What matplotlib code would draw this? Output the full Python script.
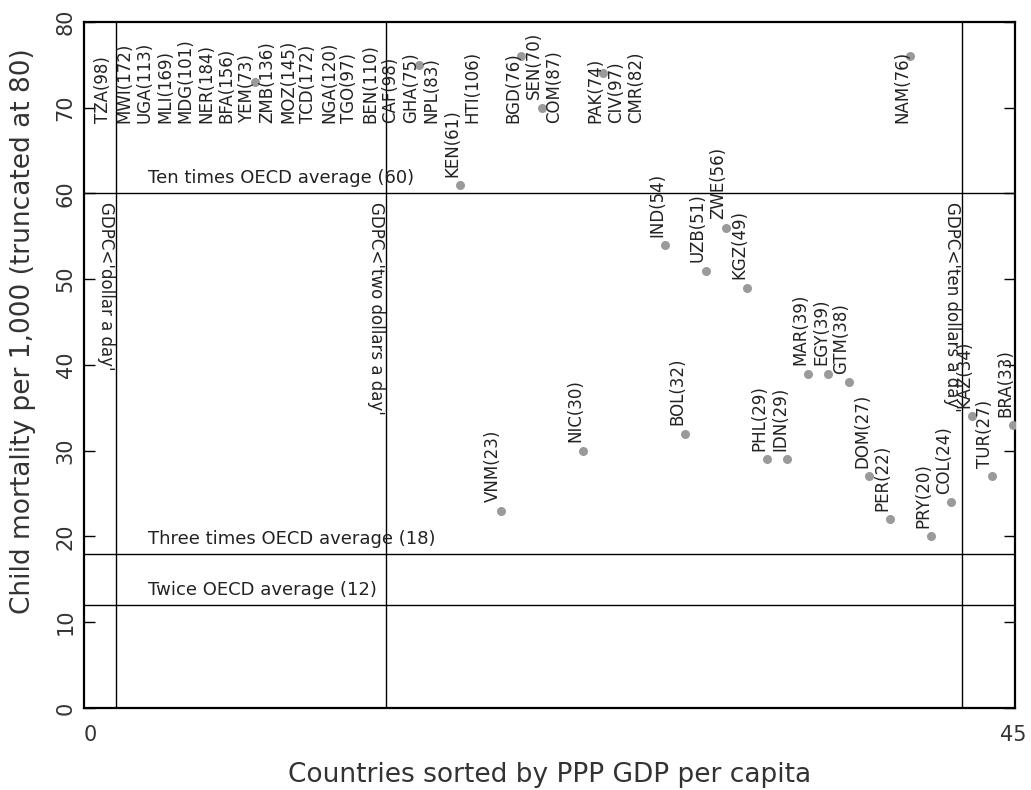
import numpy as np
import matplotlib.pyplot as plt

codes = ['TZA', 'MWI', 'UGA', 'MLI', 'MDG', 'NER', 'BFA', 'YEM', 'ZMB', 'MOZ',
         'TCD', 'NGA', 'TGO', 'BEN', 'CAF', 'GHA', 'NPL', 'KEN', 'HTI', 'VNM',
         'BGD', 'SEN', 'COM', 'NIC', 'PAK', 'CIV', 'CMR', 'IND', 'BOL', 'UZB',
         'ZWE', 'KGZ', 'PHL', 'IDN', 'MAR', 'EGY', 'GTM', 'DOM', 'PER', 'NAM',
         'PRY', 'COL', 'KAZ', 'TUR', 'BRA']
mortality = [98, 172, 113, 169, 101, 184, 156, 73, 136, 145,
             172, 120, 97, 110, 98, 75, 83, 61, 106, 23,
             76, 70, 87, 30, 74, 97, 82, 54, 32, 51,
             56, 49, 29, 29, 39, 39, 38, 27, 22, 76,
             20, 24, 34, 27, 33]
# reference levels (multiples of OECD average)
levels = [60, 18, 12]
level_names = ['Ten times OECD average (60)', 'Three times OECD average (18)',
               'Twice OECD average (12)']
# income thresholds, in country-rank units
cuts = [1.25, 14.4, 42.5]
cut_names = ["GDPC<'dollar a day'", "GDPC<'two dollars a day'",
             "GDPC<'ten dollars a day'"]

rank = np.arange(1, len(codes) + 1)
vals = np.array(mortality, dtype=float)
shown = vals <= 80

fig = plt.figure(figsize=(10.31, 7.90), dpi=100)
ax = fig.add_axes([0.0815, 0.1038, 0.903, 0.8684])

ax.plot(rank[shown], vals[shown], 'o', ms=6.5, color='#9a9a9a', mec='none', zorder=3)

for x, y, c, v in zip(rank, vals, codes, mortality):
    ly = 67.2 if y > 72 else y
    ax.annotate(f'{c}({v})', (x, ly), xytext=(1, 6), textcoords='offset points',
                rotation=90, ha='right', va='bottom', fontsize=12, color='#222222')

for y, name in zip(levels, level_names):
    ax.axhline(y, color='black', lw=1.0)
    ax.text(2.8, y + 0.7, name, fontsize=13, color='#222222', ha='left', va='bottom')

for x, name in zip(cuts, cut_names):
    ax.axvline(x, color='black', lw=1.0)
    ax.text(x - 0.05, 59, name, rotation=-90, ha='right', va='top',
            fontsize=12, color='#222222')

ax.set_xlim(-0.32, 45.1)
ax.set_ylim(0, 80)
ax.set_xticks([0, 45])
ax.set_yticks(range(0, 81, 10))
ax.tick_params(axis='x', length=0, pad=12, labelsize=15, labelcolor='#333333')
ax.tick_params(axis='y', direction='in', length=8, width=1, right=True,
               labelsize=15, labelcolor='#333333', pad=6)
for lab in ax.get_yticklabels():
    lab.set_rotation(90)
    lab.set_va('center')
for s in ax.spines.values():
    s.set_linewidth(1.6)

ax.set_xlabel('Countries sorted by PPP GDP per capita', fontsize=19,
              color='#333333')
ax.xaxis.set_label_coords(0.5, -0.078)
ax.set_ylabel('Child mortality per 1,000 (truncated at 80)', fontsize=19,
              color='#333333')
ax.yaxis.set_label_coords(-0.052, 0.55)

fig.savefig('out.png', dpi=100)
